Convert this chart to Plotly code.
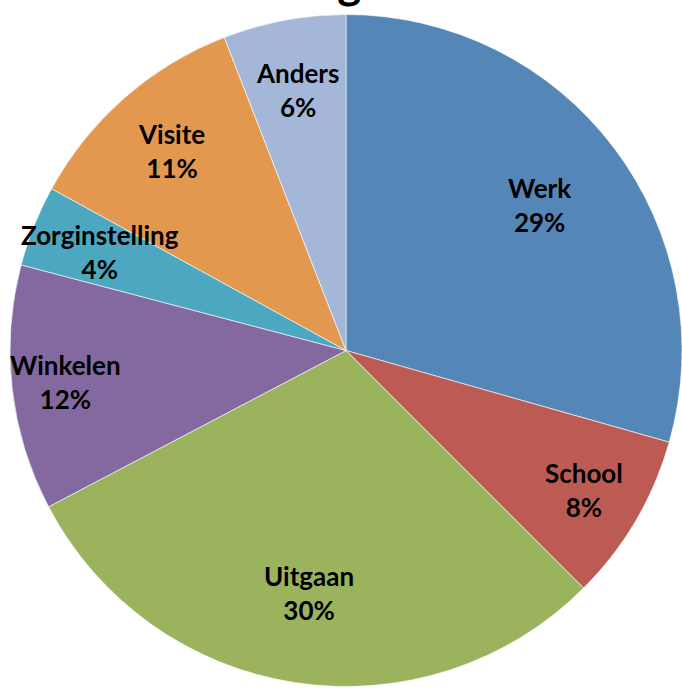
import math
import plotly.graph_objects as go

labels = ["Werk", "School", "Uitgaan", "Winkelen", "Zorginstelling", "Visite", "Anders"]
values = [29.4, 8.1, 29.8, 11.8, 3.9, 11.1, 5.9]
colors = ["#5586B8", "#BC5B53", "#9CB35E", "#8469A0", "#4BA8C0", "#E39850", "#A4B7D9"]
label_radius = [0.72, 0.82, 0.73, 0.84, 0.79, 0.79, 0.79]
title_text = "Doel gebruik"

W, H = 682, 688
ML, MR, MT, MB = 10, 0, 13, 0
PW, PH = W - ML - MR, H - MT - MB
R = min(PW, PH) / 2

fig = go.Figure(go.Pie(
    labels=labels, values=values, sort=False, direction="clockwise", rotation=0,
    marker=dict(colors=colors, line=dict(color="white", width=0.6)),
    textinfo="none", hoverinfo="label+percent", showlegend=False,
))

total = sum(values)
cum = 0
font = dict(family="Lato, 'Open Sans', sans-serif", size=26, color="black")
for lab, v, f in zip(labels, values, label_radius):
    mid = (cum + v / 2) / total * 2 * math.pi
    cum += v
    x = 0.5 + f * R * math.sin(mid) / PW
    y = 0.5 + f * R * math.cos(mid) / PH
    pct = round(v / total * 100)
    fig.add_annotation(x=x, y=y, xref="paper", yref="paper", showarrow=False,
                       xanchor="center", yanchor="middle",
                       text=f"<b>{lab}<br>{pct}%</b>", font=font, align="center")

fig.add_annotation(x=(360 - ML) / PW, y=1 - (10 - MT) / PH, xref="paper", yref="paper",
                   xanchor="center", yanchor="bottom", showarrow=False,
                   text=f"<b>{title_text}</b>",
                   font=dict(family="Lato, sans-serif", size=46, color="black"))

fig.update_layout(width=W, height=H, margin=dict(l=ML, r=MR, t=MT, b=MB),
                  paper_bgcolor="white", plot_bgcolor="white")
fig.write_html("out.html")
